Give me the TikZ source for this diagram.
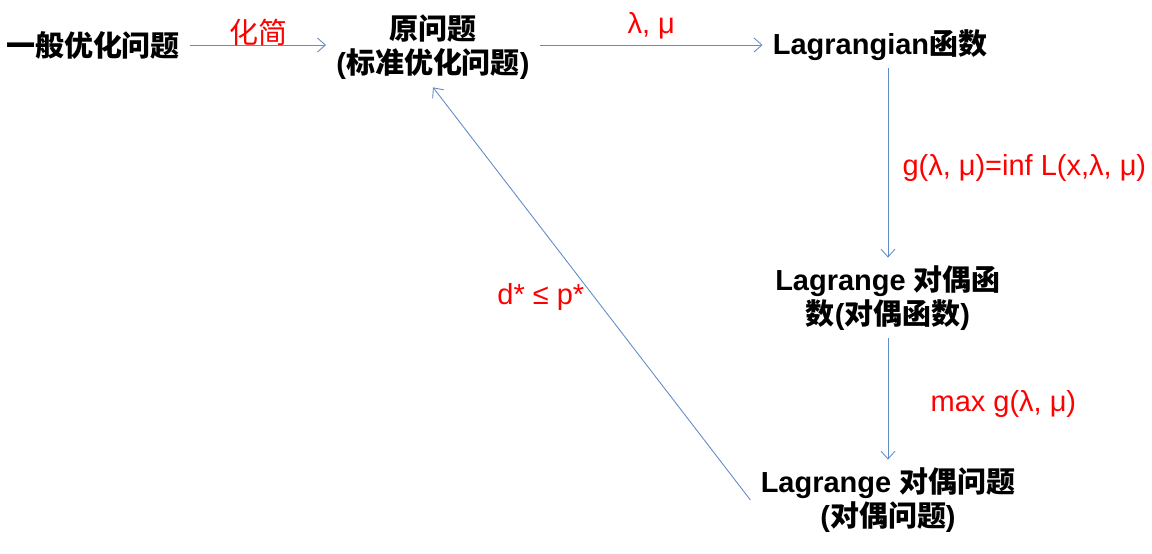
\documentclass[tikz,border=0pt]{standalone}
\usepackage{fontspec}
\setmainfont{Liberation Sans}
\newfontfamily\cjk{Noto Sans CJK SC}
\usetikzlibrary{calc,arrows.meta}

\definecolor{linkblue}{RGB}{96,140,200}
\definecolor{notered}{RGB}{255,0,0}

\begin{document}
\begin{tikzpicture}[x=0.02cm,y=-0.02cm,
  stage/.style={font=\fontsize{16.5}{19.5}\selectfont\bfseries,align=center,inner xsep=0.2cm,inner ysep=0.15cm},
  flow/.style={draw=linkblue,line width=0.5pt,-{Straight Barb[length=4.5pt,width=8pt]}},
  note/.style={font=\fontsize{16.5}{19.5}\selectfont,text=notered,inner sep=2pt}]
  \useasboundingbox (0,0) rectangle (1152,554);

  \coordinate (G) at (93,45);
  \coordinate (O) at (433,47);
  \coordinate (L) at (880,45);
  \coordinate (D) at (888,298);
  \coordinate (P) at (888,500);

  \node[stage] (gen) at (G) {\cjk 一般优化问题};
  \node[stage] (orig) at (O) {{\cjk 原问题}\\({\cjk 标准优化问题})};
  \node[stage] (lagfn) at (L) {Lagrangian{\cjk 函数}};
  \node[stage] (dualfn) at (D) {Lagrange {\cjk 对偶函}\\{\cjk 数}({\cjk 对偶函数})};
  \node[stage] (dualprob) at (P) {Lagrange {\cjk 对偶问题}\\({\cjk 对偶问题})};

  \draw[flow] (gen.east) -- (gen.east -| orig.west) node[note,midway,above,yshift=-3pt] (simp) {\cjk 化简};
  \draw[flow] (lagfn.west -| orig.east) -- (lagfn.west) node[note,midway,above,yshift=1pt] (mult) {λ, μ};
  \draw[flow] (lagfn.south -| dualfn) -- (dualfn) node[note,midway,right,xshift=6pt,yshift=-3pt] (inf) {g(λ, μ)=inf L(x,λ, μ)};
  \draw[flow] (dualfn) -- (dualprob) node[note,midway,right,xshift=22pt,yshift=-3pt] (maxg) {max g(λ, μ)};
  \draw[flow] (dualprob.west) -- (orig.south) node[note,midway,left,xshift=-2pt,yshift=-2pt] (weak) {d* ≤ p*};
\end{tikzpicture}
\end{document}
